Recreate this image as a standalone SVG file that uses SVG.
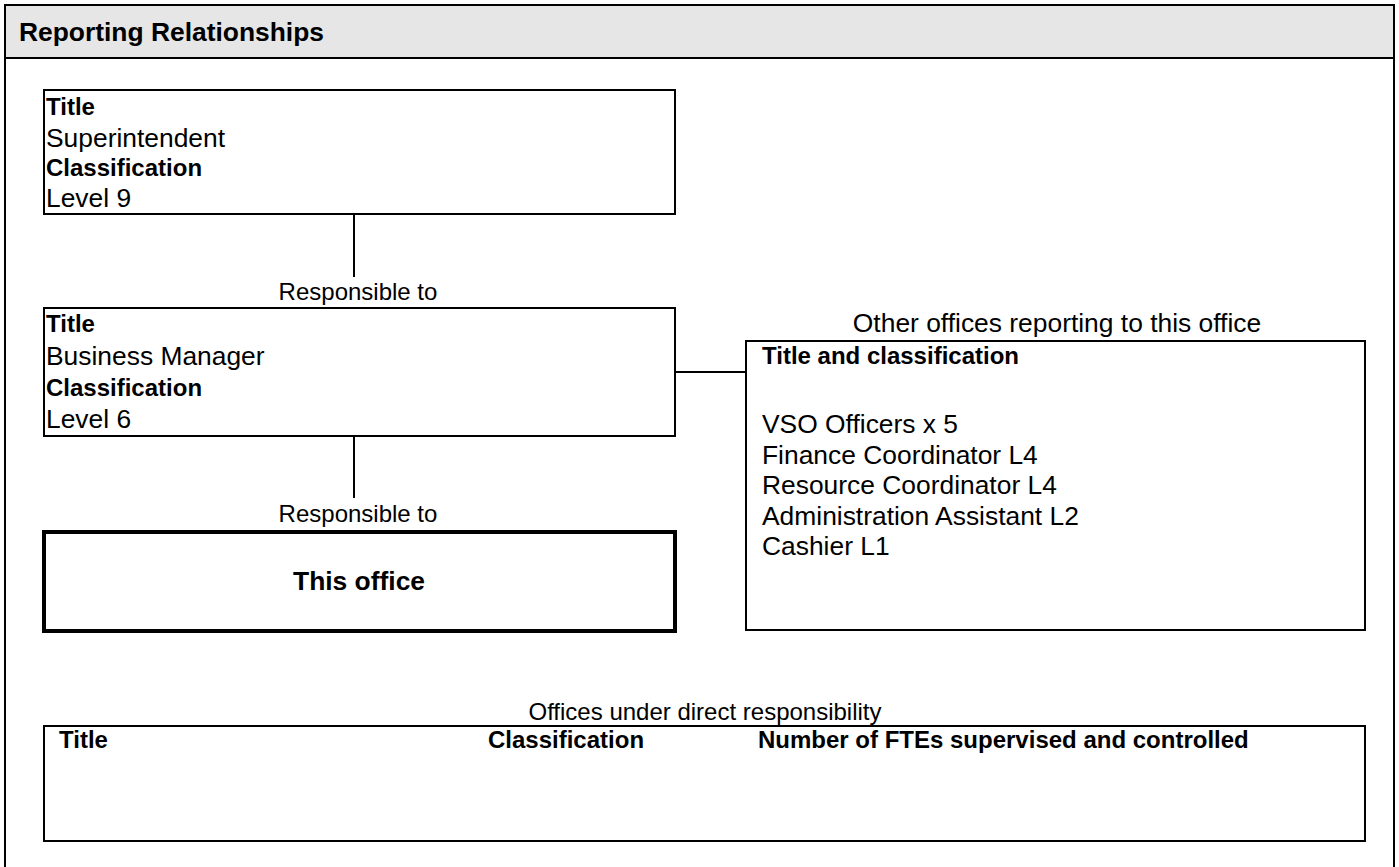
<svg xmlns="http://www.w3.org/2000/svg" width="1399" height="867" viewBox="0 0 1399 867">
<style>
text{font-family:"Liberation Sans",Arial,sans-serif;fill:#000}
.b{font-weight:bold;font-size:24px}
.r{font-size:26.4px}
.s{font-size:24px}
.h{font-weight:bold;font-size:26.4px}
.box{fill:#fff;stroke:#000;stroke-width:2}
.thick{fill:#fff;stroke:#000;stroke-width:4}
.ln{stroke:#000;stroke-width:2;fill:none}
</style>
<rect x="0" y="0" width="1399" height="867" fill="#fff"/>
<g id="frame">
<rect x="5" y="5" width="1389" height="870" fill="#fff" stroke="#000" stroke-width="2"/>
<rect x="5" y="5" width="1389" height="53" fill="#e6e6e6" stroke="#000" stroke-width="2"/>
<text class="h" x="19" y="41">Reporting Relationships</text>
</g>
<g id="connectors">
<line class="ln" x1="354" y1="214" x2="354" y2="277"/>
<line class="ln" x1="354" y1="436" x2="354" y2="498"/>
<line class="ln" x1="675" y1="372" x2="746" y2="372"/>
<text class="s" x="358" y="300" text-anchor="middle">Responsible to</text>
<text class="s" x="358" y="522" text-anchor="middle">Responsible to</text>
</g>
<g id="superintendent">
<rect class="box" x="44" y="90" width="631" height="124"/>
<text class="b" x="46" y="115">Title</text>
<text class="r" x="46" y="147">Superintendent</text>
<text class="b" x="46" y="176">Classification</text>
<text class="r" x="46" y="207">Level 9</text>
</g>
<g id="business-manager">
<rect class="box" x="44" y="308" width="631" height="128"/>
<text class="b" x="46" y="332">Title</text>
<text class="r" x="46" y="365">Business Manager</text>
<text class="b" x="46" y="396">Classification</text>
<text class="r" x="46" y="428">Level 6</text>
</g>
<g id="this-office">
<rect class="thick" x="44" y="532" width="631" height="99"/>
<text class="h" x="359" y="590" text-anchor="middle">This office</text>
</g>
<g id="other-offices">
<text class="r" x="1057" y="332" text-anchor="middle">Other offices reporting to this office</text>
<rect class="box" x="746" y="341" width="619" height="289"/>
<text class="b" x="762" y="364">Title and classification</text>
<text class="r" x="762" y="433">VSO Officers x 5</text>
<text class="r" x="762" y="464">Finance Coordinator L4</text>
<text class="r" x="762" y="494">Resource Coordinator L4</text>
<text class="r" x="762" y="525">Administration Assistant L2</text>
<text class="r" x="762" y="555">Cashier L1</text>
</g>
<g id="direct-responsibility">
<text class="s" x="705" y="720" text-anchor="middle">Offices under direct responsibility</text>
<rect class="box" x="44" y="726" width="1321" height="115" stroke-width="2.5"/>
<text class="b" x="59" y="748">Title</text>
<text class="b" x="488" y="748">Classification</text>
<text class="b" x="758" y="748">Number of FTEs supervised and controlled</text>
</g>
</svg>
